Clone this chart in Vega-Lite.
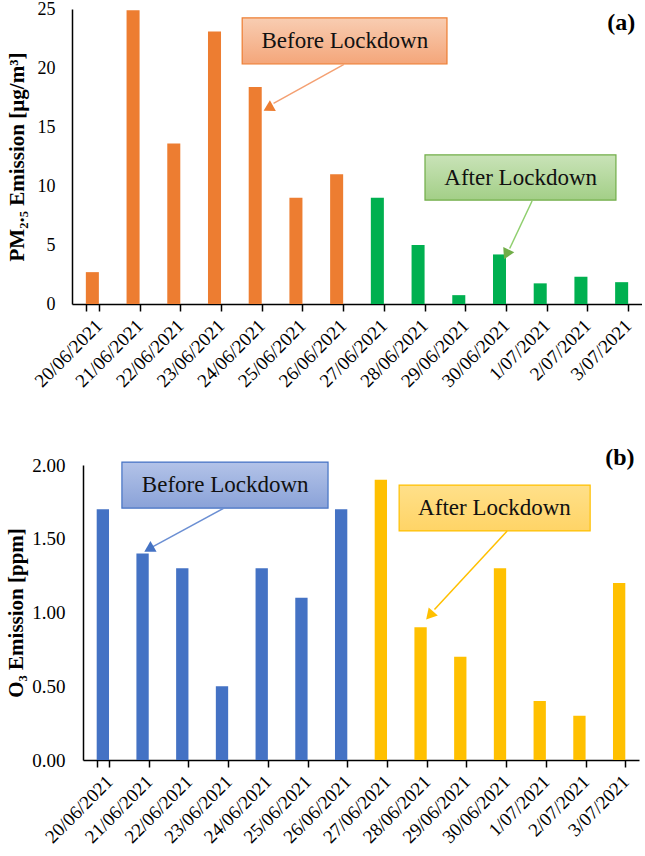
{
  "$schema": "https://vega.github.io/schema/vega-lite/v6.json",
  "background": "white",
  "padding": {"left": 5, "top": 0, "right": 0, "bottom": 0},
  "config": {
    "view": {"stroke": null},
    "font": "Times New Roman, Liberation Serif, serif",
    "text": {"font": "Times New Roman, Liberation Serif, serif"},
    "axis": {"labelFont": "Times New Roman, Liberation Serif, serif", "titleFont": "Times New Roman, Liberation Serif, serif", "labelColor": "#000", "titleColor": "#000", "domainColor": "#000", "tickColor": "#000", "grid": false, "domainWidth": 1.5}
  },
  "datasets": {
    "pm": [
      {"date": "20/06/2021", "value": 2.7, "period": "Before"},
      {"date": "21/06/2021", "value": 24.9, "period": "Before"},
      {"date": "22/06/2021", "value": 13.6, "period": "Before"},
      {"date": "23/06/2021", "value": 23.1, "period": "Before"},
      {"date": "24/06/2021", "value": 18.4, "period": "Before"},
      {"date": "25/06/2021", "value": 9.0, "period": "Before"},
      {"date": "26/06/2021", "value": 11.0, "period": "Before"},
      {"date": "27/06/2021", "value": 9.0, "period": "After"},
      {"date": "28/06/2021", "value": 5.0, "period": "After"},
      {"date": "29/06/2021", "value": 0.75, "period": "After"},
      {"date": "30/06/2021", "value": 4.2, "period": "After"},
      {"date": "1/07/2021", "value": 1.75, "period": "After"},
      {"date": "2/07/2021", "value": 2.3, "period": "After"},
      {"date": "3/07/2021", "value": 1.85, "period": "After"}
    ],
    "o3": [
      {"date": "20/06/2021", "value": 1.70, "period": "Before"},
      {"date": "21/06/2021", "value": 1.40, "period": "Before"},
      {"date": "22/06/2021", "value": 1.30, "period": "Before"},
      {"date": "23/06/2021", "value": 0.50, "period": "Before"},
      {"date": "24/06/2021", "value": 1.30, "period": "Before"},
      {"date": "25/06/2021", "value": 1.10, "period": "Before"},
      {"date": "26/06/2021", "value": 1.70, "period": "Before"},
      {"date": "27/06/2021", "value": 1.90, "period": "After"},
      {"date": "28/06/2021", "value": 0.90, "period": "After"},
      {"date": "29/06/2021", "value": 0.70, "period": "After"},
      {"date": "30/06/2021", "value": 1.30, "period": "After"},
      {"date": "1/07/2021", "value": 0.40, "period": "After"},
      {"date": "2/07/2021", "value": 0.30, "period": "After"},
      {"date": "3/07/2021", "value": 1.20, "period": "After"}
    ]
  },
  "resolve": {"scale": {"color": "independent"}},
  "spacing": 54,
  "vconcat": [
    {
      "width": 570,
      "height": 295,
      "resolve": {"scale": {"x": "independent", "y": "independent"}},
      "layer": [
        {
          "data": {"name": "pm"},
          "mark": {"type": "bar"},
          "encoding": {
            "x": {"field": "date", "type": "ordinal", "sort": null,
              "scale": {"paddingInner": 0.68, "paddingOuter": 0.34},
              "axis": {"title": null, "labelAngle": -45, "labelFontSize": 19, "tickBand": "extent", "tickSize": 7, "tickWidth": 1.5, "labelPadding": 5}},
            "y": {"field": "value", "type": "quantitative",
              "scale": {"domain": [0, 25], "nice": false},
              "axis": {"title": "PM₂.₅ Emission [µg/m³]", "titleFontSize": 21, "titleFontWeight": "bold", "titlePadding": 10, "values": [0, 5, 10, 15, 20, 25], "ticks": false, "labelFontSize": 18, "labelPadding": 17}},
            "color": {"field": "period", "type": "nominal", "scale": {"domain": ["Before", "After"], "range": ["#ED7D31", "#00B050"]}, "legend": null}
          }
        },
        {
          "data": {"values": [{"u": 4.18, "u2": 9.21, "v": 20.34, "v2": 24.24}]},
          "mark": {"type": "rect", "stroke": "#ED7D31", "strokeWidth": 1.2,
            "fill": {"gradient": "linear", "x1": 0, "y1": 0, "x2": 0, "y2": 1, "stops": [{"offset": 0, "color": "#F8CDB2"}, {"offset": 1, "color": "#F4A67A"}]}},
          "encoding": {
            "x": {"field": "u", "type": "quantitative", "scale": {"domain": [0, 14], "nice": false}, "axis": null},
            "x2": {"field": "u2"},
            "y": {"field": "v", "type": "quantitative", "scale": {"domain": [0, 25], "nice": false}, "axis": null},
            "y2": {"field": "v2"}
          }
        },
        {
          "data": {"values": [{"u": 8.67, "u2": 13.36, "v": 8.81, "v2": 12.63}]},
          "mark": {"type": "rect", "stroke": "#70AD47", "strokeWidth": 1.2,
            "fill": {"gradient": "linear", "x1": 0, "y1": 0, "x2": 0, "y2": 1, "stops": [{"offset": 0, "color": "#C9E3B8"}, {"offset": 1, "color": "#A3CF87"}]}},
          "encoding": {
            "x": {"field": "u", "type": "quantitative", "scale": {"domain": [0, 14], "nice": false}, "axis": null},
            "x2": {"field": "u2"},
            "y": {"field": "v", "type": "quantitative", "scale": {"domain": [0, 25], "nice": false}, "axis": null},
            "y2": {"field": "v2"}
          }
        },
        {
          "data": {"values": [{"u": 6.68, "v": 20.3, "u2": 4.95, "v2": 17.0}]},
          "mark": {"type": "rule", "stroke": "#F4A072", "strokeWidth": 1.5},
          "encoding": {
            "x": {"field": "u", "type": "quantitative", "scale": {"domain": [0, 14], "nice": false}, "axis": null},
            "x2": {"field": "u2"},
            "y": {"field": "v", "type": "quantitative", "scale": {"domain": [0, 25], "nice": false}, "axis": null},
            "y2": {"field": "v2"}
          }
        },
        {
          "data": {"values": [{"u": 4.82, "v": 16.6}]},
          "mark": {"type": "point", "shape": "triangle-up", "filled": true, "color": "#ED7D31", "opacity": 1, "size": 150, "angle": 241},
          "encoding": {
            "x": {"field": "u", "type": "quantitative", "scale": {"domain": [0, 14], "nice": false}, "axis": null},
            "y": {"field": "v", "type": "quantitative", "scale": {"domain": [0, 25], "nice": false}, "axis": null}
          }
        },
        {
          "data": {"values": [{"u": 11.3, "v": 8.73, "u2": 10.75, "v2": 4.7}]},
          "mark": {"type": "rule", "stroke": "#8FCF6E", "strokeWidth": 1.5},
          "encoding": {
            "x": {"field": "u", "type": "quantitative", "scale": {"domain": [0, 14], "nice": false}, "axis": null},
            "x2": {"field": "u2"},
            "y": {"field": "v", "type": "quantitative", "scale": {"domain": [0, 25], "nice": false}, "axis": null},
            "y2": {"field": "v2"}
          }
        },
        {
          "data": {"values": [{"u": 10.67, "v": 4.2}]},
          "mark": {"type": "point", "shape": "triangle-up", "filled": true, "color": "#70AD47", "opacity": 1, "size": 150, "angle": 206},
          "encoding": {
            "x": {"field": "u", "type": "quantitative", "scale": {"domain": [0, 14], "nice": false}, "axis": null},
            "y": {"field": "v", "type": "quantitative", "scale": {"domain": [0, 25], "nice": false}, "axis": null}
          }
        },
        {
          "data": {"values": [{"u": 6.7, "v": 22.3, "label": "Before Lockdown"}, {"u": 11.02, "v": 10.72, "label": "After Lockdown"}]},
          "mark": {"type": "text", "fontSize": 23, "color": "#111", "align": "center", "baseline": "middle"},
          "encoding": {
            "x": {"field": "u", "type": "quantitative", "scale": {"domain": [0, 14], "nice": false}, "axis": null},
            "y": {"field": "v", "type": "quantitative", "scale": {"domain": [0, 25], "nice": false}, "axis": null},
            "text": {"field": "label"}
          }
        },
        {
          "data": {"values": [{"u": 13.49, "v": 23.8, "label": "(a)"}]},
          "mark": {"type": "text", "fontSize": 24, "fontWeight": "bold", "color": "#000", "align": "center", "baseline": "middle"},
          "encoding": {
            "x": {"field": "u", "type": "quantitative", "scale": {"domain": [0, 14], "nice": false}, "axis": null},
            "y": {"field": "v", "type": "quantitative", "scale": {"domain": [0, 25], "nice": false}, "axis": null},
            "text": {"field": "label"}
          }
        }
      ]
    },
    {
      "width": 567,
      "height": 295,
      "resolve": {"scale": {"x": "independent", "y": "independent"}},
      "layer": [
        {
          "data": {"name": "o3"},
          "mark": {"type": "bar"},
          "encoding": {
            "x": {"field": "date", "type": "ordinal", "sort": null,
              "scale": {"paddingInner": 0.69, "paddingOuter": 0.345, "range": [11, 567]},
              "axis": {"title": null, "labelAngle": -45, "labelFontSize": 19, "tickBand": "extent", "tickSize": 7, "tickWidth": 1.5, "labelPadding": 5}},
            "y": {"field": "value", "type": "quantitative",
              "scale": {"domain": [0, 2], "nice": false},
              "axis": {"title": "O₃ Emission [ppm]", "titleFontSize": 21, "titleFontWeight": "bold", "titlePadding": 5, "offset": -11, "values": [0, 0.5, 1, 1.5, 2], "format": ".2f", "ticks": false, "labelFontSize": 19, "labelPadding": 18}},
            "color": {"field": "period", "type": "nominal", "scale": {"domain": ["Before", "After"], "range": ["#4472C4", "#FFC000"]}, "legend": null}
          }
        },
        {
          "data": {"values": [{"u": 0.98, "u2": 6.17, "v": 1.708, "v2": 2.02}]},
          "mark": {"type": "rect", "stroke": "#4472C4", "strokeWidth": 1.2,
            "fill": {"gradient": "linear", "x1": 0, "y1": 0, "x2": 0, "y2": 1, "stops": [{"offset": 0, "color": "#B3C3E8"}, {"offset": 1, "color": "#8AA2D8"}]}},
          "encoding": {
            "x": {"field": "u", "type": "quantitative", "scale": {"domain": [0, 14], "nice": false, "range": [11, 567]}, "axis": null},
            "x2": {"field": "u2"},
            "y": {"field": "v", "type": "quantitative", "scale": {"domain": [0, 2], "nice": false}, "axis": null},
            "y2": {"field": "v2"}
          }
        },
        {
          "data": {"values": [{"u": 7.96, "u2": 12.77, "v": 1.553, "v2": 1.864}]},
          "mark": {"type": "rect", "stroke": "#FFC000", "strokeWidth": 1.2,
            "fill": {"gradient": "linear", "x1": 0, "y1": 0, "x2": 0, "y2": 1, "stops": [{"offset": 0, "color": "#FFE08A"}, {"offset": 1, "color": "#FFD466"}]}},
          "encoding": {
            "x": {"field": "u", "type": "quantitative", "scale": {"domain": [0, 14], "nice": false, "range": [11, 567]}, "axis": null},
            "x2": {"field": "u2"},
            "y": {"field": "v", "type": "quantitative", "scale": {"domain": [0, 2], "nice": false}, "axis": null},
            "y2": {"field": "v2"}
          }
        },
        {
          "data": {"values": [{"u": 3.55, "v": 1.708, "u2": 1.75, "v2": 1.445}]},
          "mark": {"type": "rule", "stroke": "#6B8FD3", "strokeWidth": 1.5},
          "encoding": {
            "x": {"field": "u", "type": "quantitative", "scale": {"domain": [0, 14], "nice": false, "range": [11, 567]}, "axis": null},
            "x2": {"field": "u2"},
            "y": {"field": "v", "type": "quantitative", "scale": {"domain": [0, 2], "nice": false}, "axis": null},
            "y2": {"field": "v2"}
          }
        },
        {
          "data": {"values": [{"u": 1.66, "v": 1.43}]},
          "mark": {"type": "point", "shape": "triangle-up", "filled": true, "color": "#4472C4", "opacity": 1, "size": 150, "angle": 240},
          "encoding": {
            "x": {"field": "u", "type": "quantitative", "scale": {"domain": [0, 14], "nice": false, "range": [11, 567]}, "axis": null},
            "y": {"field": "v", "type": "quantitative", "scale": {"domain": [0, 2], "nice": false}, "axis": null}
          }
        },
        {
          "data": {"values": [{"u": 10.68, "v": 1.553, "u2": 8.85, "v2": 1.02}]},
          "mark": {"type": "rule", "stroke": "#FFC000", "strokeWidth": 1.5},
          "encoding": {
            "x": {"field": "u", "type": "quantitative", "scale": {"domain": [0, 14], "nice": false, "range": [11, 567]}, "axis": null},
            "x2": {"field": "u2"},
            "y": {"field": "v", "type": "quantitative", "scale": {"domain": [0, 2], "nice": false}, "axis": null},
            "y2": {"field": "v2"}
          }
        },
        {
          "data": {"values": [{"u": 8.73, "v": 0.98}]},
          "mark": {"type": "point", "shape": "triangle-up", "filled": true, "color": "#FFC000", "opacity": 1, "size": 150, "angle": 222},
          "encoding": {
            "x": {"field": "u", "type": "quantitative", "scale": {"domain": [0, 14], "nice": false, "range": [11, 567]}, "axis": null},
            "y": {"field": "v", "type": "quantitative", "scale": {"domain": [0, 2], "nice": false}, "axis": null}
          }
        },
        {
          "data": {"values": [{"u": 3.58, "v": 1.864, "label": "Before Lockdown"}, {"u": 10.36, "v": 1.708, "label": "After Lockdown"}]},
          "mark": {"type": "text", "fontSize": 23, "color": "#111", "align": "center", "baseline": "middle"},
          "encoding": {
            "x": {"field": "u", "type": "quantitative", "scale": {"domain": [0, 14], "nice": false, "range": [11, 567]}, "axis": null},
            "y": {"field": "v", "type": "quantitative", "scale": {"domain": [0, 2], "nice": false}, "axis": null},
            "text": {"field": "label"}
          }
        },
        {
          "data": {"values": [{"u": 13.52, "v": 2.05, "label": "(b)"}]},
          "mark": {"type": "text", "fontSize": 24, "fontWeight": "bold", "color": "#000", "align": "center", "baseline": "middle"},
          "encoding": {
            "x": {"field": "u", "type": "quantitative", "scale": {"domain": [0, 14], "nice": false, "range": [11, 567]}, "axis": null},
            "y": {"field": "v", "type": "quantitative", "scale": {"domain": [0, 2], "nice": false}, "axis": null},
            "text": {"field": "label"}
          }
        }
      ]
    }
  ]
}
